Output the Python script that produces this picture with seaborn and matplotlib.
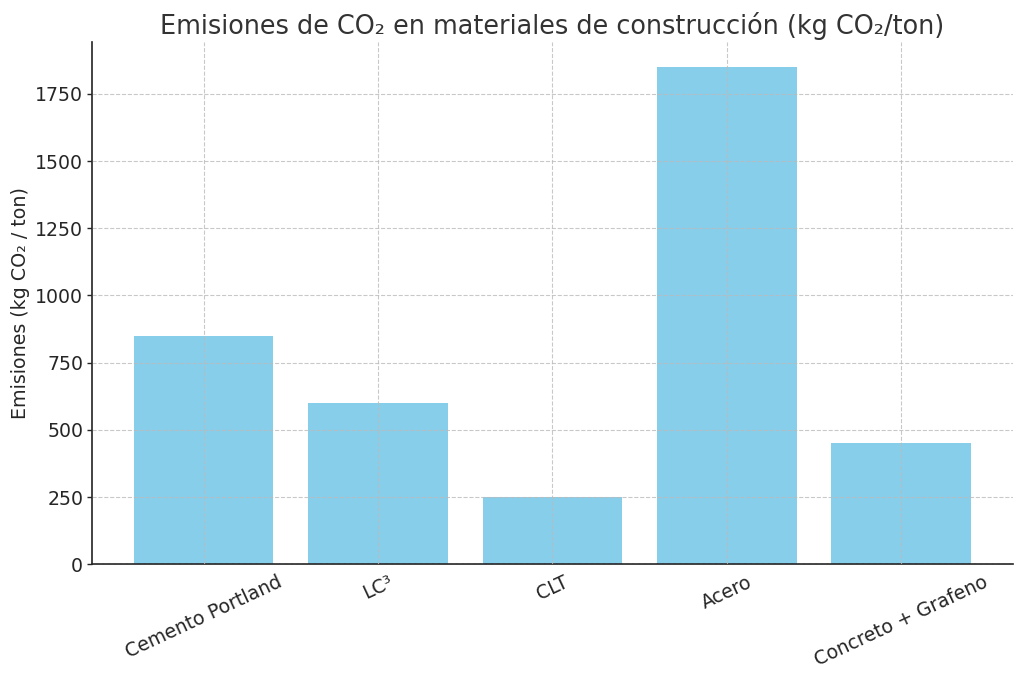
import matplotlib
matplotlib.use("Agg")
import matplotlib.pyplot as plt
import seaborn as sns
import pandas as pd

materiales = ["Cemento Portland", "LC³", "CLT", "Acero", "Concreto + Grafeno"]
emisiones = [850, 600, 250, 1850, 450]

sns.set_theme(style="white")
plt.rcParams['font.family'] = ['DejaVu Sans']
plt.rcParams['text.color'] = '#262626'
plt.rcParams['axes.labelcolor'] = '#262626'
plt.rcParams['xtick.color'] = '#262626'
plt.rcParams['ytick.color'] = '#262626'

df = pd.DataFrame({"Material": materiales, "Emisiones": emisiones})

fig, ax = plt.subplots(figsize=(10.24, 6.79), dpi=100)
fig.subplots_adjust(left=0.09, right=0.989, top=0.938, bottom=0.169)

sns.barplot(data=df, x="Material", y="Emisiones", color="#87CEEB",
            saturation=1, width=0.8, linewidth=0, ax=ax)

ax.set_xlim(-0.64, 4.64)
ax.set_ylim(0, 1942.5)
ax.set_yticks([0, 250, 500, 750, 1000, 1250, 1500, 1750])

ax.set_title("Emisiones de CO₂ en materiales de construcción (kg CO₂/ton)",
             fontsize=18.4, color='#333333')
ax.set_ylabel("Emisiones (kg CO₂ / ton)", fontsize=13.7, labelpad=4)
ax.set_xlabel("")

ax.grid(True, linestyle='--', color='#bbbbbb', linewidth=0.8, alpha=0.8)
ax.set_axisbelow(False)

for s in ['top', 'right']:
    ax.spines[s].set_visible(False)
for s in ['left', 'bottom']:
    ax.spines[s].set_color('#222222')
    ax.spines[s].set_linewidth(1.2)

ax.tick_params(axis='x', direction='in', length=4, width=1, labelsize=13.6, pad=6)
ax.tick_params(axis='y', direction='out', length=3.5, width=1, labelsize=13.6,
               pad=3, left=True)
plt.setp(ax.get_xticklabels(), rotation=25)

fig.savefig("out.png", dpi=100)
